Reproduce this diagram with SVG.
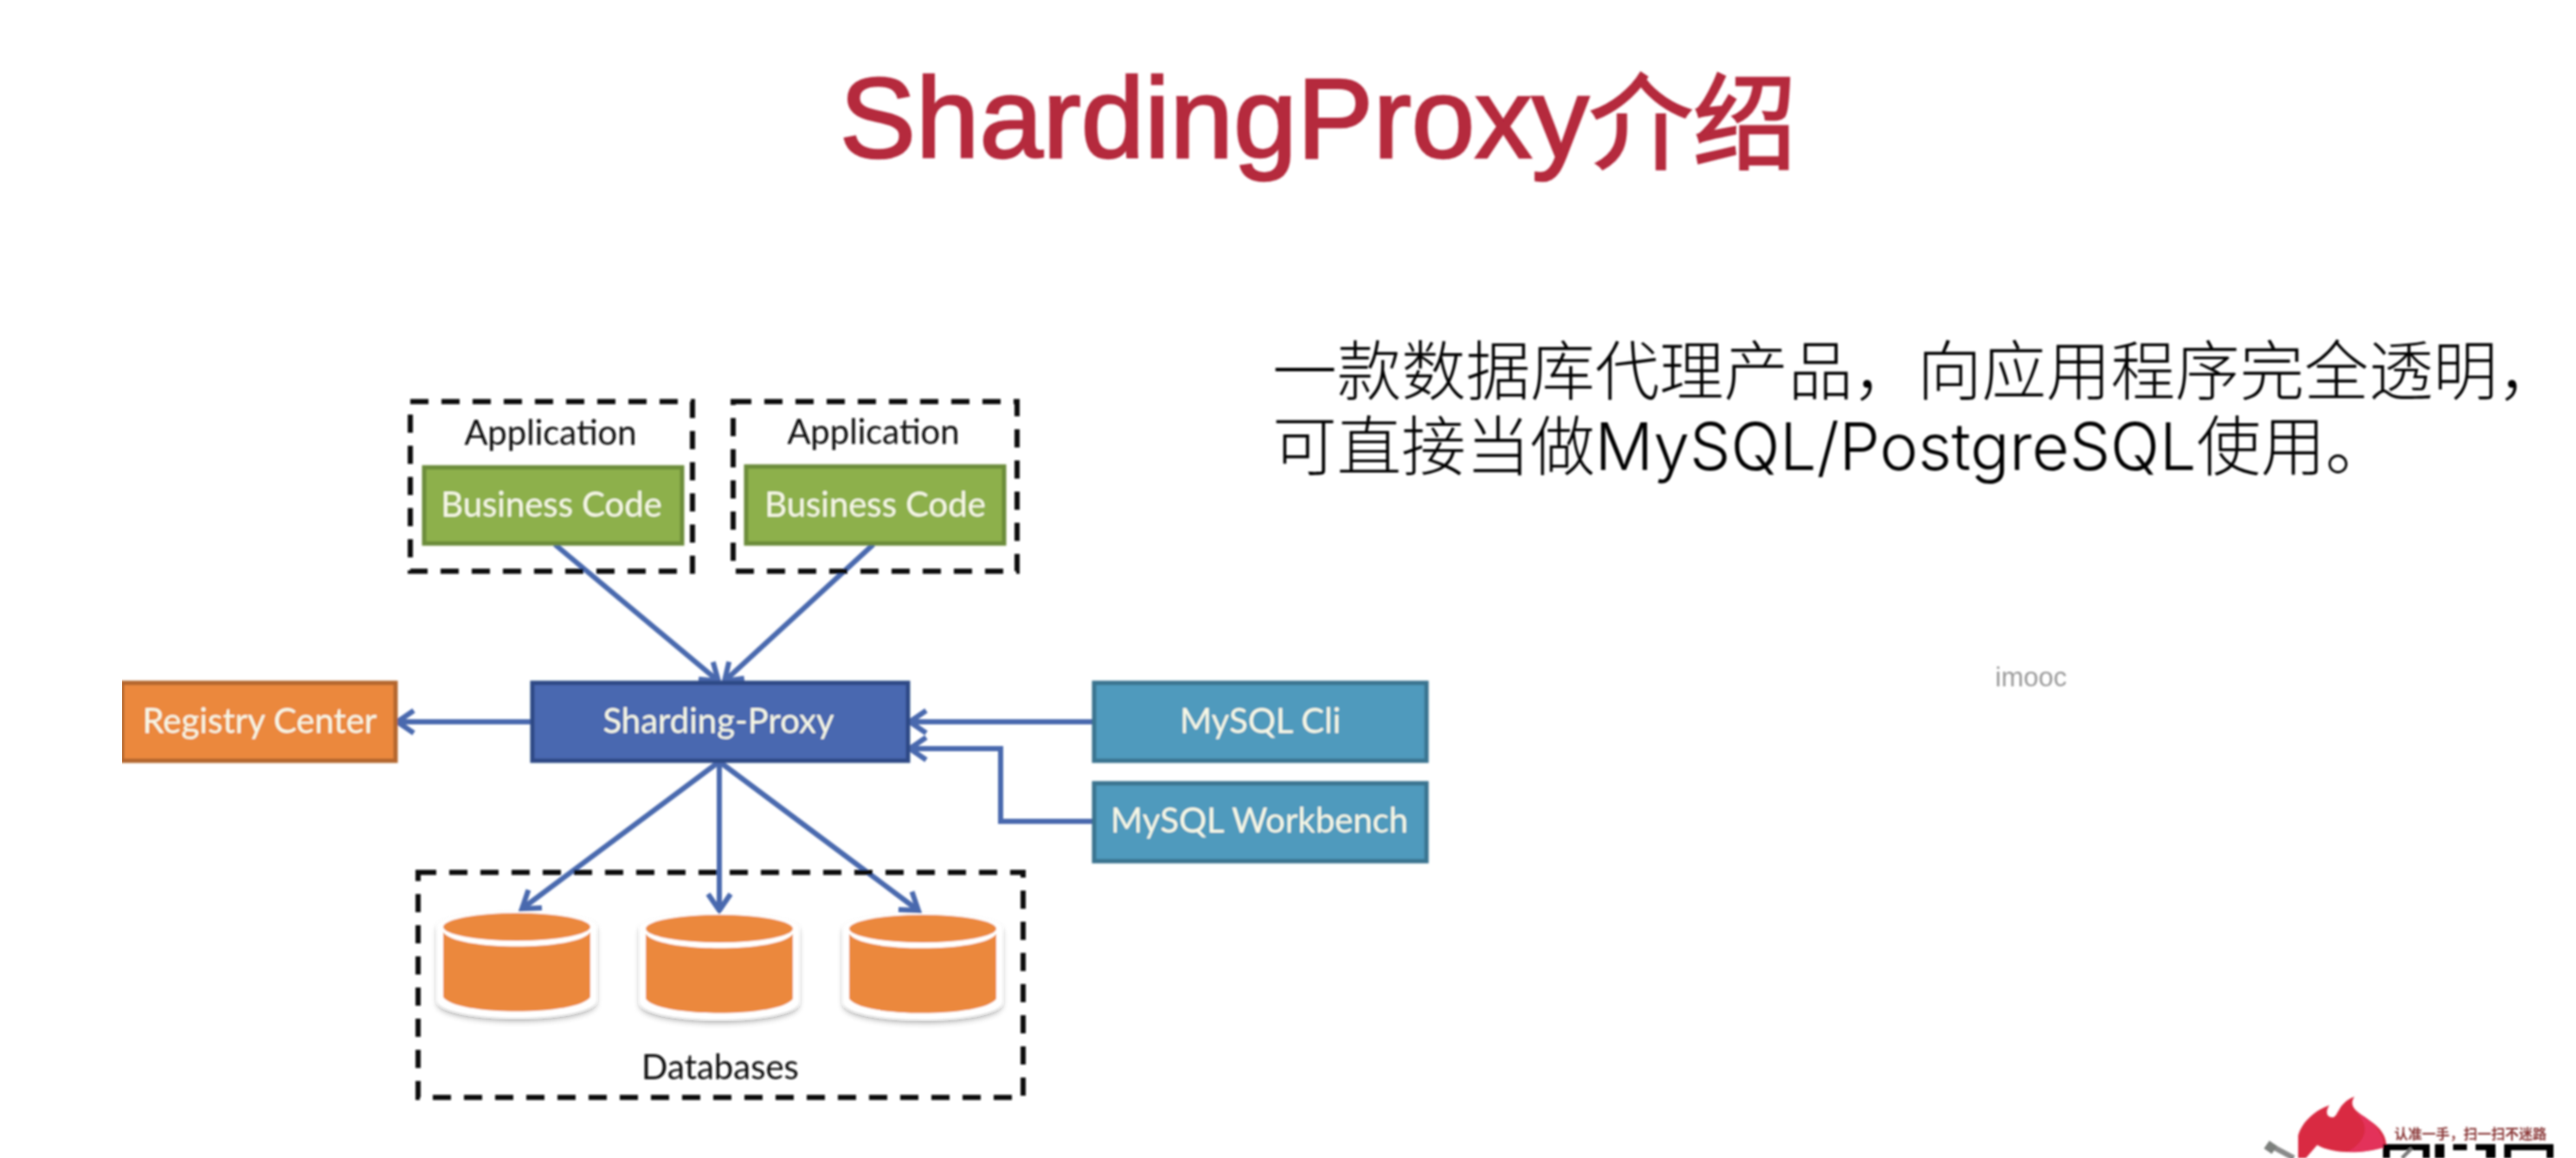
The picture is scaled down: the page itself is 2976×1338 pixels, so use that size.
<svg xmlns="http://www.w3.org/2000/svg" width="2976" height="1338" viewBox="0 0 2976 1338">
<style>
text{font-family:"Liberation Sans","Noto Sans CJK SC",sans-serif}
.d text{font-family:Lato,"Liberation Sans",sans-serif;font-size:40px;text-anchor:middle}
.lbl{fill:#f7f8e6}
.dark{fill:#111}
.dash{fill:none;stroke:#111;stroke-width:6;stroke-dasharray:21 15}
.conn{fill:none;stroke:#4a69ae;stroke-width:6}
.green{fill:#8db04b;stroke:#6c8c3a;stroke-width:5}
.orange{fill:#eb883d;stroke:#b4662f;stroke-width:5}
.blue{fill:#4868b0;stroke:#2f4a86;stroke-width:5}
.teal{fill:#4f9abd;stroke:#3a7590;stroke-width:5}
.title{fill:#b5293c;stroke:#b5293c;stroke-width:2.5}
.tl{font-size:132px}
.tc{font-size:120px}
.body{font-size:74.5px;fill:#000;font-weight:300}
.bl{font-family:Inter,"Liberation Sans",sans-serif;font-size:75px;font-weight:300}
</style>
<defs>
<marker id="arr" markerUnits="userSpaceOnUse" markerWidth="30" markerHeight="36" refX="23" refY="18" orient="auto">
<path d="M4 5L23 18L4 31" fill="none" stroke="#4a69ae" stroke-width="6"/>
</marker>
<filter id="sh" x="-15%" y="-15%" width="130%" height="130%"><feDropShadow dx="0" dy="4" stdDeviation="3" flood-color="#000" flood-opacity=".3"/></filter>
<filter id="soft" x="0" y="0" width="100%" height="100%"><feGaussianBlur stdDeviation="0.9"/></filter>
<g id="cyl">
<path d="M-7 16C-7 -7 177 -7 177 16V100C177 128 -7 128 -7 100Z" fill="#fff" filter="url(#sh)"/>
<ellipse cx="85" cy="16" rx="85" ry="16" fill="#eb883d"/>
<path d="M0 22C14 44 156 44 170 22V97C156 119 14 119 0 97Z" fill="#eb883d"/>
</g>
</defs>
<rect width="2976" height="1338" fill="#fff"/>
<g filter="url(#soft)">
<text class="title" x="970" y="182"><tspan class="tl">ShardingProxy</tspan><tspan class="tc" dy="4">介绍</tspan></text>
<text class="body" x="1470" y="456">一款数据库代理产品，向应用程序完全透明，</text>
<text class="body" x="1470" y="543">可直接当做<tspan class="bl">MySQL/PostgreSQL</tspan>使用。</text>
<text x="2305" y="793" font-size="31" fill="#9a9a9a">imooc</text>

<g id="connectors">
<path class="conn" marker-end="url(#arr)" d="M641 629L830 787"/>
<path class="conn" marker-end="url(#arr)" d="M1009 629L837 787"/>
<path class="conn" marker-end="url(#arr)" d="M613 834H459"/>
<path class="conn" marker-end="url(#arr)" d="M1262 834H1051"/>
<path class="conn" marker-end="url(#arr)" d="M1262 949H1156V865H1051"/>
<path class="conn" marker-end="url(#arr)" d="M831 880L603 1050"/>
<path class="conn" marker-end="url(#arr)" d="M831 880V1052"/>
<path class="conn" marker-end="url(#arr)" d="M831 880L1061 1052"/>
</g>

<g id="app1" class="d">
<rect class="dash" x="474" y="464" width="326" height="196"/>
<text class="dark" x="636" y="514">Application</text>
<rect class="green" x="490" y="540" width="298" height="88"/>
<text class="lbl" x="637" y="597">Business Code</text>
</g>
<g id="app2" class="d">
<rect class="dash" x="847" y="464" width="328" height="196"/>
<text class="dark" x="1009" y="513">Application</text>
<rect class="green" x="862" y="539" width="298" height="89"/>
<text class="lbl" x="1011" y="597">Business Code</text>
</g>
<g id="registry" class="d">
<rect class="orange" x="141" y="789" width="316" height="90"/>
<text class="lbl" x="300" y="847">Registry Center</text>
</g>
<g id="proxy" class="d">
<rect class="blue" x="615" y="789" width="434" height="90"/>
<text class="lbl" x="830" y="847">Sharding-Proxy</text>
</g>
<g id="cli" class="d">
<rect class="teal" x="1264" y="789" width="384" height="90"/>
<text class="lbl" x="1456" y="847">MySQL Cli</text>
</g>
<g id="workbench" class="d">
<rect class="teal" x="1264" y="905" width="384" height="90"/>
<text class="lbl" x="1455" y="962">MySQL Workbench</text>
</g>
<g id="databases" class="d">
<rect class="dash" x="483" y="1008" width="699" height="260"/>
<use href="#cyl" x="512" y="1055"/>
<use href="#cyl" x="746" y="1057"/>
<use href="#cyl" x="981" y="1057"/>
<text class="dark" x="832" y="1247">Databases</text>
</g>

<g id="logo">
<path d="M2622 1323L2650 1338" stroke="#8a8a8a" stroke-width="6" fill="none"/>
<rect x="2618" y="1320" width="11" height="11" fill="#7b7f7b" transform="rotate(35 2623 1325)"/>
<path d="M2655 1312C2660 1295 2675 1283 2691 1277C2686 1285 2688 1291 2695 1291C2702 1290 2700 1275 2720 1267C2712 1280 2725 1285 2738 1295C2750 1303 2757 1312 2757 1325C2725 1335 2692 1332 2677 1323L2664 1338H2655Z" fill="#d92c42"/>
<path d="M2722 1286C2740 1292 2752 1308 2755 1325C2740 1330 2725 1331 2712 1331C2735 1318 2738 1300 2722 1286Z" fill="#e3305a"/>
<text x="2766" y="1316" font-size="16" font-weight="700" fill="#8b3a3a">认准一手，扫一扫不迷路</text>
<path d="M2753 1322H2807V1338H2799V1329H2761V1338H2753Z" fill="#000"/>
<path d="M2813 1322H2824V1338H2813ZM2834 1322H2850V1329H2834ZM2860 1322H2883V1338H2872V1329H2860Z" fill="#000"/>
<path d="M2893 1322H2950V1338H2942V1329H2901V1338H2893Z" fill="#000"/>
<path d="M2775 1338L2786 1327" stroke="#777" stroke-width="4"/>
</g>
</g>
</svg>
